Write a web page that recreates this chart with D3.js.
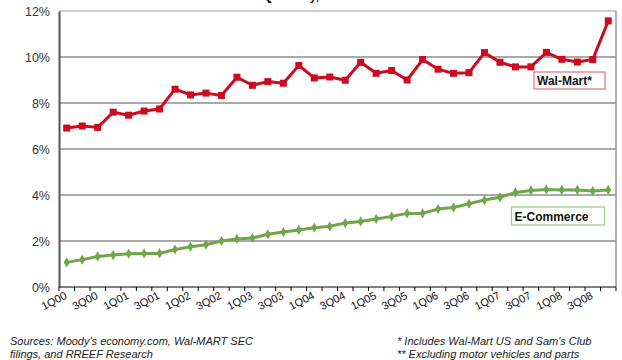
<!DOCTYPE html>
<html>
<head>
<meta charset="utf-8">
<script src="https://cdn.jsdelivr.net/npm/d3@7"></script>
<style>
  html, body { margin: 0; padding: 0; background: #fff; }
  svg { display: block; font-family: "Liberation Sans", Arial, sans-serif; }
</style>
</head>
<body>
<svg id="chart" width="622" height="360"></svg>
<script>
// Quarters 1Q00 .. 4Q08
const years = ["00","01","02","03","04","05","06","07","08"];
const quarters = years.flatMap(y => [1,2,3,4].map(q => q + "Q" + y));

// Share of retail sales, percent
const walmart = [6.91, 7.00, 6.94, 7.60, 7.47, 7.65, 7.74, 8.60,
                 8.35, 8.43, 8.33, 9.12, 8.77, 8.93, 8.86, 9.63,
                 9.09, 9.13, 8.99, 9.77, 9.29, 9.41, 9.00, 9.89,
                 9.47, 9.29, 9.32, 10.19, 9.77, 9.57, 9.57, 10.20,
                 9.90, 9.78, 9.89, 11.57];
const ecommerce = [1.07, 1.19, 1.33, 1.39, 1.45, 1.46, 1.46, 1.63,
                   1.75, 1.84, 2.00, 2.09, 2.13, 2.29, 2.39, 2.48,
                   2.58, 2.64, 2.78, 2.85, 2.96, 3.07, 3.20, 3.20,
                   3.39, 3.46, 3.62, 3.78, 3.90, 4.11, 4.20, 4.24,
                   4.22, 4.22, 4.17, 4.22];

const yTicks = [0, 2, 4, 6, 8, 10, 12];
const xTickLabels = quarters.filter((q, i) => i % 2 === 0);

const svg = d3.select("#chart");
const margin = { left: 59, right: 6, top: 11, bottom: 73 };
const W = 622, H = 360;
const FONT = "'Liberation Sans', Arial, sans-serif";

const x = d3.scaleBand().domain(quarters)
  .range([margin.left, W - margin.right]).padding(0);
const y = d3.scaleLinear().domain([0, 12]).range([H - margin.bottom, margin.top]);

// Title, running above the top edge
svg.append("text")
  .attr("x", 319).attr("y", -0.5)
  .attr("text-anchor", "end")
  .attr("font-size", 12).attr("font-weight", "bold").attr("fill", "#000")
  .text("Quarterly,");

// Horizontal gridlines
svg.append("g")
  .selectAll("line")
  .data(yTicks.filter(d => d > 0))
  .join("line")
  .attr("x1", margin.left).attr("x2", W - margin.right)
  .attr("y1", d => y(d)).attr("y2", d => y(d))
  .attr("stroke", d => d === 12 ? "#999" : "#555")
  .attr("stroke-width", 1.2);

// Right border of plot
svg.append("line")
  .attr("x1", W - margin.right).attr("x2", W - margin.right)
  .attr("y1", y(12)).attr("y2", y(0))
  .attr("stroke", "#999").attr("stroke-width", 1.5);

// Y axis
const yAxis = svg.append("g")
  .attr("transform", `translate(${margin.left},0)`)
  .call(d3.axisLeft(y).tickValues(yTicks).tickSize(0).tickPadding(9)
    .tickFormat(d => d + "%"));
yAxis.select(".domain").attr("stroke", "#555").attr("stroke-width", 2);
yAxis.selectAll("text").attr("font-size", 12.5).attr("fill", "#333")
  .attr("font-family", FONT);

// X axis with ticks at quarter boundaries
const xg = svg.append("g").attr("transform", `translate(0,${y(0)})`);
xg.append("line")
  .attr("x1", margin.left).attr("x2", W - margin.right)
  .attr("stroke", "#000").attr("stroke-width", 1.2);
xg.selectAll("line.tick")
  .data(d3.range(quarters.length + 1))
  .join("line").attr("class", "tick")
  .attr("x1", i => margin.left + i * x.step())
  .attr("x2", i => margin.left + i * x.step())
  .attr("y1", 0).attr("y2", 4)
  .attr("stroke", "#000").attr("stroke-width", 1);
xg.selectAll("text")
  .data(xTickLabels)
  .join("text")
  .attr("transform", d => `translate(${x(d) + x.bandwidth() / 2 + 1},${11}) rotate(-27)`)
  .attr("text-anchor", "end")
  .attr("font-size", 11).attr("fill", "#111")
  .text(d => d);

const cx = d => x(d) + x.bandwidth() / 2;
const line = vals => d3.line()
  .x((d, i) => cx(quarters[i]))
  .y(d => y(d))(vals);

// E-Commerce series
const green = "#6fa64a";
svg.append("path").attr("d", line(ecommerce))
  .attr("fill", "none").attr("stroke", green).attr("stroke-width", 3)
  .attr("stroke-linejoin", "round");
svg.append("g").selectAll("path")
  .data(ecommerce)
  .join("path")
  .attr("d", d3.symbol(d3.symbolDiamond, 30))
  .attr("transform", (d, i) => `translate(${cx(quarters[i])},${y(d)})`)
  .attr("fill", green);

// Wal-Mart series
const red = "#cc0a20";
svg.append("path").attr("d", line(walmart))
  .attr("fill", "none").attr("stroke", red).attr("stroke-width", 3)
  .attr("stroke-linejoin", "round");
svg.append("g").selectAll("rect")
  .data(walmart)
  .join("rect")
  .attr("x", (d, i) => cx(quarters[i]) - 3.5)
  .attr("y", d => y(d) - 3.5)
  .attr("width", 7).attr("height", 7)
  .attr("fill", red);

// Series label boxes
function labelBox(x0, y0, w, h, border, text) {
  svg.append("rect").attr("x", x0).attr("y", y0).attr("width", w).attr("height", h)
    .attr("fill", "#fff").attr("stroke", border).attr("stroke-width", 1.2);
  svg.append("text").attr("x", x0 + 3).attr("y", y0 + h / 2 + 4.5)
    .attr("font-size", 12).attr("font-weight", "bold").attr("fill", "#111")
    .text(text);
}
labelBox(534, 72, 71, 17, "#e0707e", "Wal-Mart*");
labelBox(511.5, 207, 93, 18, "#9cc77f", "E-Commerce");

// Footnotes
const notes = svg.append("g").attr("font-size", 11).attr("font-style", "italic").attr("fill", "#222");
notes.append("text").attr("x", 10).attr("y", 345).text("Sources: Moody's economy.com, Wal-MART SEC");
notes.append("text").attr("x", 10).attr("y", 358).text("filings, and RREEF Research");
notes.append("text").attr("x", 397).attr("y", 345).text("* Includes Wal-Mart US and Sam's Club");
notes.append("text").attr("x", 397).attr("y", 358).text("** Excluding motor vehicles and parts");
</script>
</body>
</html>
